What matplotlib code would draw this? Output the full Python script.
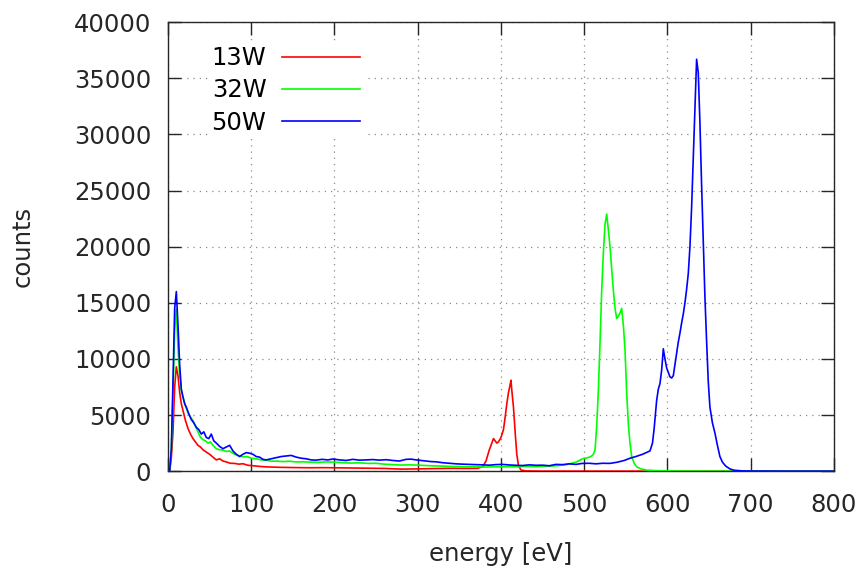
import numpy as np
import matplotlib
matplotlib.use("Agg")
import matplotlib.pyplot as plt

# --- spectra (energy in eV, counts) ---
e13 = [0, 2, 4, 6, 8, 10, 12, 14, 16, 18, 21, 24, 27, 30, 33, 36, 39, 42, 46, 50,
       54, 58, 62, 66, 70, 75, 80, 85, 90, 96, 102, 110, 118, 126, 134, 142, 150,
       160, 170, 185, 200, 220, 240, 260, 280, 300, 320, 340, 360, 372, 378, 382,
       386, 389, 391, 393, 395, 397, 400, 403, 405, 407, 409, 411, 412, 413, 415,
       417, 419, 421, 424, 430, 450, 800]
c13 = [0, 0, 1200, 3500, 7500, 9300, 8500, 7000, 6000, 5400, 4500, 3800, 3300,
       2900, 2600, 2300, 2150, 1900, 1700, 1500, 1250, 1000, 1100, 900, 820, 700,
       690, 620, 660, 520, 480, 420, 380, 360, 340, 330, 320, 310, 300, 310, 300,
       280, 260, 240, 180, 200, 230, 250, 240, 250, 400, 900, 1900, 2500, 2900,
       2700, 2500, 2600, 3000, 3700, 4800, 6000, 7000, 7700, 8100, 7200, 5700,
       3500, 1500, 500, 100, 20, 0, 0]

e32 = [0, 2, 4, 6, 8, 10, 12, 14, 16, 18, 21, 24, 27, 30, 33, 36, 39, 42, 45, 48,
       51, 54, 58, 62, 66, 70, 74, 78, 82, 86, 90, 95, 100, 106, 112, 118, 124,
       130, 138, 146, 154, 162, 170, 180, 190, 200, 210, 220, 230, 240, 250, 260,
       270, 280, 290, 300, 310, 320, 330, 340, 350, 360, 370, 380, 390, 400, 410,
       420, 430, 440, 450, 460, 470, 480, 490, 498, 504, 508, 511, 513, 515, 517,
       519, 521, 523, 525, 527, 529, 531, 533, 535, 537, 539, 541, 543, 545, 547,
       549, 551, 553, 555, 557, 560, 563, 568, 575, 590, 620, 700, 800]
c32 = [0, 0, 1800, 7000, 12500, 14400, 11000, 8500, 7200, 6600, 5800, 5200, 4800,
       4500, 4000, 3500, 3000, 2800, 2700, 2500, 2600, 2300, 2000, 1900, 1870,
       1750, 1800, 1580, 1450, 1350, 1270, 1300, 1150, 1100, 1000, 980, 880, 900,
       850, 880, 820, 830, 800, 780, 820, 800, 750, 720, 740, 690, 700, 620, 580,
       540, 560, 530, 500, 470, 450, 420, 400, 380, 390, 360, 380, 380, 400, 380,
       420, 400, 420, 450, 500, 600, 800, 1100, 1200, 1300, 1500, 1900, 4000, 7200,
       11500, 16100, 19500, 22000, 22900, 21500, 20000, 18000, 16100, 14500, 13600,
       13800, 14100, 14500, 13000, 10800, 7000, 4200, 2500, 1300, 700, 380, 200,
       90, 30, 10, 0, 0]

e50 = [0, 2, 4, 6, 8, 10, 12, 14, 16, 18, 20, 22, 25, 28, 31, 34, 37, 40, 43, 46,
       49, 52, 55, 58, 62, 66, 70, 74, 78, 82, 86, 90, 94, 98, 102, 106, 110, 114,
       118, 124, 130, 136, 142, 148, 154, 160, 166, 172, 178, 185, 192, 198, 206,
       214, 222, 230, 238, 246, 254, 262, 270, 278, 286, 292, 298, 304, 310, 316,
       322, 330, 338, 346, 354, 362, 370, 378, 386, 394, 402, 410, 418, 426, 434,
       442, 450, 458, 466, 474, 482, 490, 498, 506, 514, 522, 531, 540, 548, 555,
       562, 570, 576, 579, 582, 584, 587, 589, 591, 593, 595, 597, 599, 601, 603,
       605, 607, 609, 611, 613, 615, 617, 619, 621, 623, 625, 627, 629, 631, 633,
       635, 637, 639, 641, 643, 645, 647, 649, 651, 654, 657, 660, 663, 666, 670,
       675, 680, 690, 700, 750, 800]
c50 = [0, 0, 2000, 8000, 14500, 16000, 13000, 9500, 7300, 6600, 6000, 5700,
       5100, 4600, 4300, 3900, 3700, 3300, 3500, 3000, 2900, 3300, 2700, 2500,
       2200, 2000, 2150, 2300, 1800, 1500, 1300, 1500, 1650, 1600, 1500, 1300,
       1250, 1050, 1000, 1100, 1200, 1300, 1350, 1400, 1250, 1150, 1100, 1000,
       980, 1050, 1000, 1080, 1000, 950, 1050, 980, 1000, 1030, 980, 1020, 950,
       900, 1050, 1070, 1000, 950, 900, 850, 830, 750, 700, 650, 620, 600, 580,
       560, 530, 580, 600, 550, 520, 500, 560, 520, 530, 480, 600, 580, 650, 600,
       690, 700, 650, 700, 690, 800, 950, 1150, 1300, 1500, 1700, 1800, 2500,
       3800, 6300, 7300, 7800, 9000, 10900, 10000, 9200, 8800, 8400, 8300, 8500,
       9500, 10500, 11500, 12300, 13200, 14000, 15000, 16200, 17600, 20000, 23500,
       28000, 32500, 36700, 35500, 31000, 25500, 20500, 15500, 11600, 8000, 5700,
       4300, 3400, 2300, 1300, 800, 450, 200, 80, 20, 10, 0, 0]

labels = ["13W", "32W", "50W"]
colors = ["#ff0000", "#00ff00", "#0000ff"]

fig = plt.figure(figsize=(8.66, 5.69), dpi=100)
ax = fig.add_axes([0.194, 0.172, 0.769, 0.789])

handles = []
for e, c, lab, col in zip((e13, e32, e50), (c13, c32, c50), labels, colors):
    h, = ax.plot(e, c, color=col, lw=1.2, label=lab, zorder=3)
    handles.append(h)

ax.set_xlim(0, 800)
ax.set_ylim(0, 40000)
ax.set_xticks(np.arange(0, 801, 100))
ax.set_yticks(np.arange(0, 40001, 5000))
ax.grid(True, color="0.55", linestyle=(0, (1, 4)), linewidth=0.9)
ax.set_axisbelow(True)
for s in ax.spines.values():
    s.set_linewidth(1.0)
    s.set_color("0.15")
ax.tick_params(direction="in", length=9.5, width=1.0, top=True, right=True,
               labelsize=17.5, colors="0.15")
ax.tick_params(axis="x", pad=16)
ax.tick_params(axis="y", pad=12)

ax.set_xlabel("energy [eV]", fontsize=17.5, labelpad=18, color="0.15")
ax.set_ylabel("counts", fontsize=17.5, labelpad=28, color="0.15")

leg = ax.legend(handles, labels, loc="upper left", bbox_to_anchor=(0.06, 0.955),
                markerfirst=False, frameon=True, fancybox=False, framealpha=1,
                edgecolor="none", facecolor="white", borderpad=0.15,
                handlelength=3.2, handletextpad=0.65, labelspacing=0.34,
                fontsize=17.5, borderaxespad=0)
leg.set_zorder(5)

fig.savefig("out.png", dpi=100)
